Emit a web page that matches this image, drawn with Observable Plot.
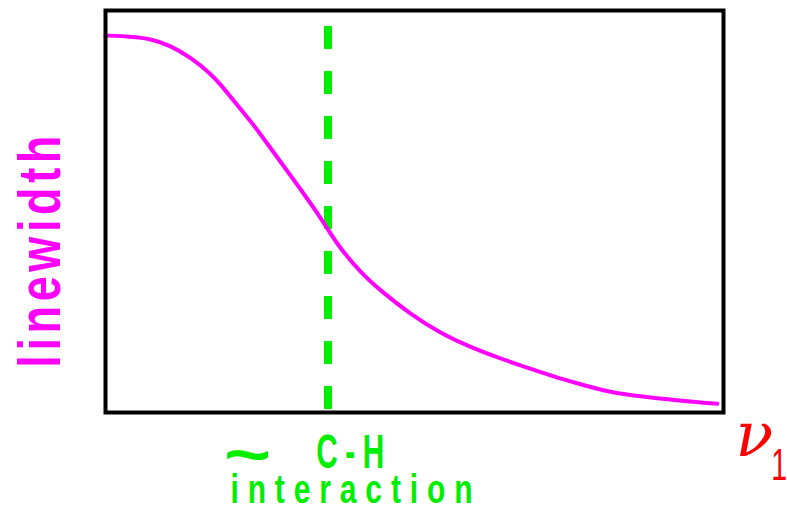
<!DOCTYPE html>
<html>
<head>
<meta charset="utf-8">
<script src="https://cdn.jsdelivr.net/npm/d3@7"></script>
<script src="https://cdn.jsdelivr.net/npm/@observablehq/plot@0.6"></script>
<style>
  body { margin: 0; background: #fff; }
  svg { display: block; }
</style>
</head>
<body>
<div id="chart"></div>
<script>
// Frequency ν1 (arbitrary units, 0–100) and linewidth (arbitrary units, 0–100)
const nu = [0, 4.0, 7.3, 10.5, 13.8, 17.0, 18.6, 20.2, 21.8, 23.5, 25.1, 28.3, 31.6, 34.8, 36.4, 38.0, 41.3, 44.5, 49.4, 54.2, 59.1, 63.9, 68.8, 72.0, 76.9, 81.7, 86.6, 91.4, 96.3, 99.0];
const linewidth = [93.8, 93.5, 93.0, 91.3, 88.3, 84.3, 81.6, 78.6, 75.6, 72.4, 69.2, 62.4, 55.5, 48.5, 44.5, 40.8, 34.8, 30.3, 24.4, 19.7, 16.2, 13.4, 10.9, 9.2, 7.0, 5.0, 4.0, 3.2, 2.5, 2.2];

// Position of the C–H interaction marker
const interactionNu = [36];
const interactionTop = 96;
const interactionBottom = 0.5;

const curve = nu.map((x, i) => ({x, y: linewidth[i]}));

const MAGENTA = "#ff00ff", GREEN = "#00ee00", RED = "#ff0000";
const SANS = "'Liberation Sans', 'DejaVu Sans', sans-serif";

const svg = Plot.plot({
  width: 787,
  height: 512,
  marginTop: 10,
  marginRight: 64,
  marginBottom: 100,
  marginLeft: 105,
  x: {domain: [0, 100], axis: null},
  y: {domain: [0, 100], axis: null},
  marks: [
    Plot.ruleX(interactionNu, {
      x: d => d, y1: interactionTop, y2: interactionBottom,
      stroke: GREEN, strokeWidth: 8, strokeDasharray: "23,22"
    }),
    Plot.line(curve, {x: "x", y: "y", stroke: MAGENTA, strokeWidth: 4, curve: "basis"}),
    Plot.frame({stroke: "#000", strokeWidth: 4}),
    Plot.text(["linewidth"], {
      x: -7.4, y: 40, text: d => d, rotate: -90, lineAnchor: "bottom",
      fill: MAGENTA, fontSize: 60, fontWeight: "bold", fontFamily: SANS
    }),
    Plot.text(["~"], {
      x: 23.0, y: -15.5, text: d => d, lineAnchor: "bottom",
      fill: GREEN, fontSize: 62, fontWeight: "bold", fontFamily: SANS
    }),
    Plot.text(["C-H"], {
      x: 39.6, y: -13.8, text: d => d, lineAnchor: "bottom",
      fill: GREEN, fontSize: 48, fontWeight: "bold", fontFamily: SANS
    }),
    Plot.text(["interaction"], {
      x: 39.8, y: -22.6, text: d => d, lineAnchor: "bottom",
      fill: GREEN, fontSize: 40, fontWeight: "bold", fontFamily: SANS
    }),
    Plot.text(["ν"], {
      x: 105, y: -10.7, text: d => d, lineAnchor: "bottom",
      fill: RED, fontSize: 62, fontStyle: "italic", fontFamily: "'DejaVu Serif', serif"
    }),
    Plot.text(["1"], {
      x: 109.0, y: -16.9, text: d => d, lineAnchor: "bottom",
      fill: RED, fontSize: 44, fontFamily: SANS
    })
  ]
});

// Narrow the gothic-style labels horizontally and spread their letters
function squeeze(label, sx, length) {
  svg.querySelectorAll("text").forEach(t => {
    if (t.textContent !== label) return;
    const x = t.getAttribute("x"), y = t.getAttribute("y");
    let tr = t.getAttribute("transform") || "";
    if (x !== null || y !== null) {
      tr += ` translate(${x || 0},${y || 0})`;
      t.removeAttribute("x");
      t.removeAttribute("y");
    }
    t.setAttribute("transform", `${tr} scale(${sx},1)`);
    if (length) {
      t.setAttribute("textLength", length / sx);
      t.setAttribute("lengthAdjust", "spacing");
    }
  });
}
squeeze("linewidth", 0.75, 232);
squeeze("~", 1.3, null);
squeeze("C-H", 0.62, 68);
squeeze("interaction", 0.75, 242);
squeeze("1", 0.65, null);

document.getElementById("chart").appendChild(svg);
</script>
</body>
</html>
